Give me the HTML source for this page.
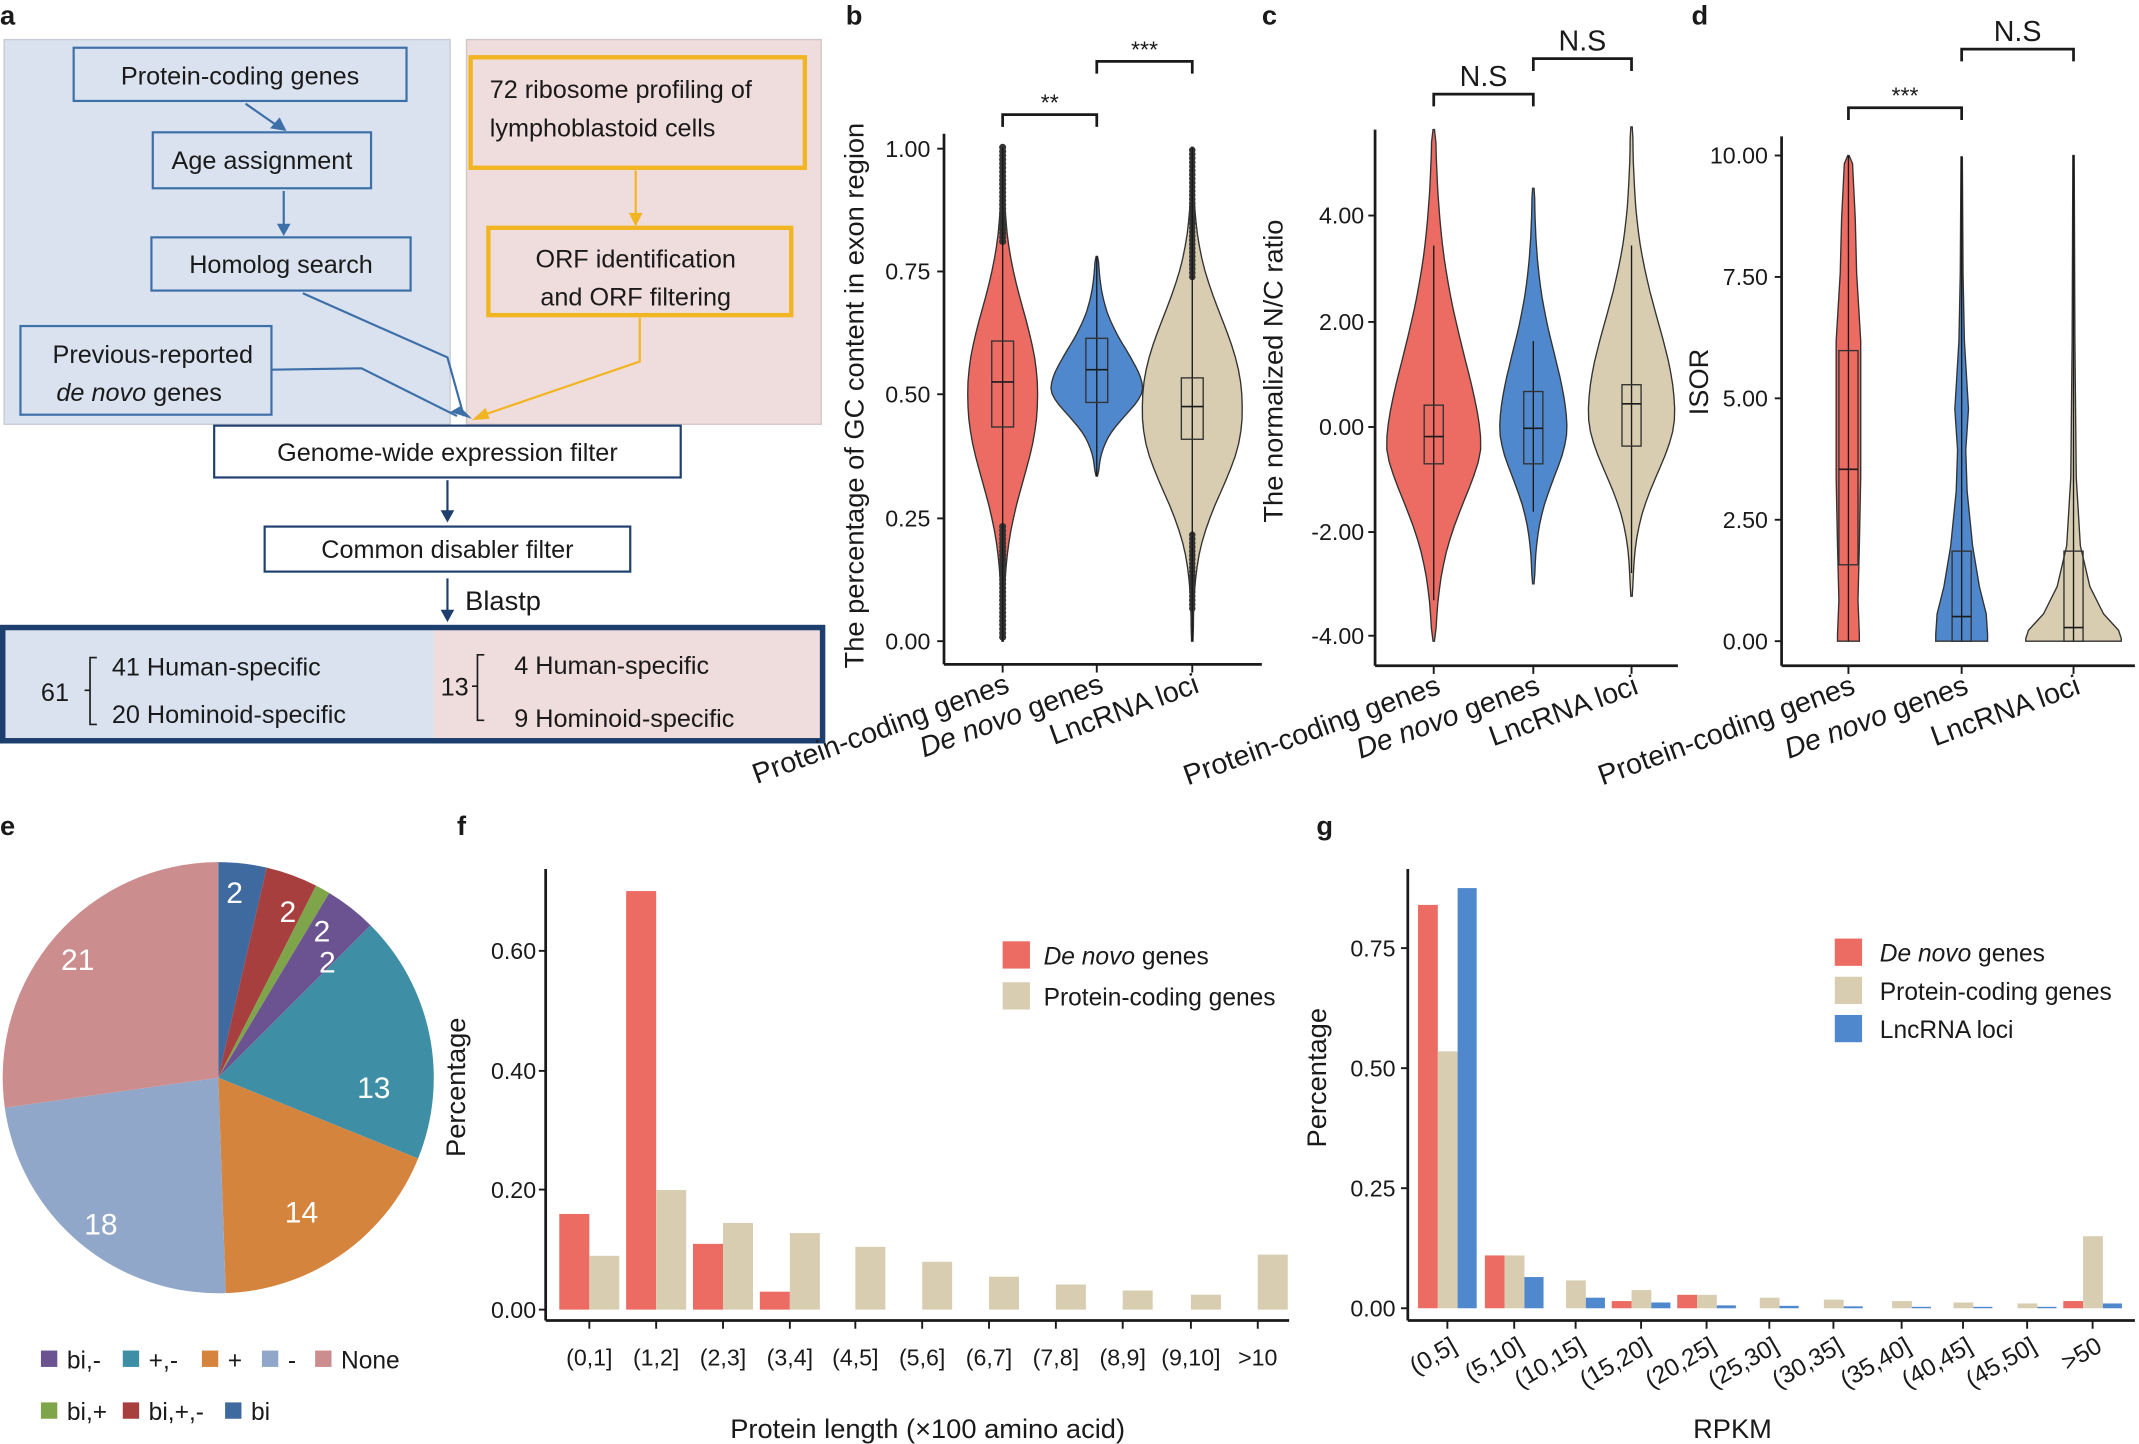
<!DOCTYPE html>
<html><head><meta charset="utf-8">
<style>
html,body{margin:0;padding:0;background:#fff;}
svg{display:block;}
text{font-family:"Liberation Sans",Arial,sans-serif;}
</style></head>
<body>
<svg id="s" xmlns="http://www.w3.org/2000/svg" width="2139" height="1444" viewBox="0 0 1568 1058.5" preserveAspectRatio="none" fill="#1a1a1a">
<rect x="0" y="0" width="1568" height="1060" fill="#fff"/>
<!-- Panel a -->
<text x="0" y="18" font-size="20" font-weight="bold">a</text>
<rect x="3" y="29" width="327" height="282" fill="#d9e2ee" stroke="#c8ccd2" stroke-width="1"/>
<rect x="342" y="29" width="260" height="282" fill="#efdcdc" stroke="#cfc6c6" stroke-width="1"/>
<g fill="none" stroke="#3d6fa8" stroke-width="1.6">
<rect x="54" y="35" width="244" height="39"/>
<rect x="112" y="97" width="160" height="41"/>
<rect x="111" y="174" width="190" height="39"/>
<rect x="15" y="239" width="184" height="65"/>
<line x1="180" y1="76" x2="203" y2="92"/>
<line x1="208" y1="140" x2="208" y2="166"/>
<polyline points="222,215 328,262 340,305"/>
<polyline points="199,271 265,270 335,305"/>
</g>
<g fill="#3d6fa8"><polygon points="198,94 210,96 205,86"/><polygon points="203,164 213,164 208,173"/><polygon points="330,302 346,307 337,298"/></g>
<g fill="none" stroke="#f2b522" stroke-width="3.2">
<rect x="345" y="42" width="245" height="81"/>
<rect x="358" y="167" width="222" height="64"/>
</g>
<g fill="none" stroke="#f2b522" stroke-width="1.6">
<line x1="466" y1="125" x2="466" y2="158"/>
<polyline points="469,233 469,265 352,305"/>
</g>
<g fill="#f2b522"><polygon points="461,156 471,156 466,166"/><polygon points="346,308 356,299 359,307"/></g>
<g font-size="18.5" text-anchor="middle">
<text x="176" y="62">Protein-coding genes</text>
<text x="192" y="124">Age assignment</text>
<text x="206" y="200">Homolog search</text>
<text x="112" y="266">Previous-reported</text>
<text x="102" y="294"><tspan font-style="italic">de novo</tspan> genes</text>
<text x="466" y="196">ORF identification</text>
<text x="466" y="224">and ORF filtering</text>
</g>
<g font-size="18.5"><text x="359" y="72">72 ribosome profiling of</text><text x="359" y="100">lymphoblastoid cells</text></g>
<g fill="none" stroke="#1f3f6e" stroke-width="1.6">
<rect x="157" y="312" width="342" height="38"/>
<rect x="194" y="386" width="268" height="33"/>
<line x1="328" y1="352" x2="328" y2="375"/>
<line x1="328" y1="424" x2="328" y2="448"/>
</g>
<g fill="#1f3f6e"><polygon points="323,374 333,374 328,383"/><polygon points="323,447 333,447 328,456"/></g>
<g font-size="18.5" text-anchor="middle"><text x="328" y="338">Genome-wide expression filter</text><text x="328" y="409">Common disabler filter</text></g>
<text x="341" y="447" font-size="20">Blastp</text>
<rect x="2" y="460" width="316" height="83" fill="#d9e2ee"/>
<rect x="318" y="460" width="285" height="83" fill="#efdcdc"/>
<rect x="2" y="460" width="601" height="83" fill="none" stroke="#1c3f6e" stroke-width="4"/>
<g fill="none" stroke="#1a1a1a" stroke-width="1.2">
<path d="M71,482 H66 V531 H71 M66,506 H62"/>
<path d="M355,480 H350 V528 H355 M350,503 H346"/>
</g>
<g font-size="18.5"><text x="30" y="514">61</text><text x="82" y="495">41 Human-specific</text><text x="82" y="530">20 Hominoid-specific</text>
<text x="323" y="510">13</text><text x="377" y="494">4 Human-specific</text><text x="377" y="533">9 Hominoid-specific</text></g>
<g font-size="20" font-weight="bold"><text x="620" y="18">b</text><text x="925" y="18">c</text><text x="1240" y="18">d</text><text x="0" y="612">e</text><text x="335" y="612">f</text><text x="965" y="612">g</text></g>
<g id="dyn"></g>
</svg>
<script>
var g=document.getElementById("dyn"),h="";
function T(x,y,s,o){o=o||{};h+='<text x="'+x+'" y="'+y+'" font-size="'+(o.fs||16)+'"'+(o.a?' text-anchor="'+o.a+'"':'')+(o.tr?' transform="'+o.tr+'"':'')+(o.it?' font-style="italic"':'')+' fill="'+(o.fill||"#1a1a1a")+'">'+s+'</text>';}
function L(x1,y1,x2,y2,w){h+='<line x1="'+x1+'" y1="'+y1+'" x2="'+x2+'" y2="'+y2+'" stroke="#1a1a1a" stroke-width="'+(w||1.2)+'"/>';}
function R(x,y,w,hh,f){h+='<rect x="'+x+'" y="'+y+'" width="'+w+'" height="'+hh+'" fill="'+f+'"/>';}
var RED="#ec6b62",BLU="#4f88cc",TAN="#d8cdb0";
function axes(x0,y0,y1,x1,ticks,labx){L(x0,y1,x0,y0,2);L(x0,y0,x1,y0,2);
 ticks.forEach(function(t){L(x0-5,t[1],x0,t[1],1.4);T(labx,t[1]+6,t[0],{a:"end",fs:17});});}
function violin(cx,prof,col){
 var l="",r="";prof.forEach(function(p,i){l+=(i?"L":"M")+(cx-p[1]).toFixed(1)+","+p[0];});
 for(var i=prof.length-1;i>=0;i--){r+="L"+(cx+prof[i][1]).toFixed(1)+","+prof[i][0];}
 h+='<path d="'+l+r+'Z" fill="'+col+'" stroke="#333" stroke-width="1"/>';}
function box(cx,top,bot,q1,q3,med,w){L(cx,top,cx,bot,1);h+='<rect x="'+(cx-w)+'" y="'+q3+'" width="'+(2*w)+'" height="'+(q1-q3)+'" fill="none" stroke="#333" stroke-width="1"/>';L(cx-w,med,cx+w,med,1.2);}
function smooth(top,bot,peakY,peakW,tail,n){
 var p=[];n=n||40;for(var i=0;i<=n;i++){var y=top+(bot-top)*i/n;var d=(y-peakY)/((y<peakY)?(peakY-top):(bot-peakY));var w=peakW*Math.exp(-Math.pow(Math.abs(d)*2.2,tail||2))+0.6;if(i==0||i==n)w=0.5;p.push([y.toFixed(1),w]);}return p;}
function bracket(x1,x2,y,lab,fs){h+='<path d="M'+x1+','+(y+9)+' V'+y+' H'+x2+' V'+(y+9)+'" fill="none" stroke="#1a1a1a" stroke-width="2"/>';T((x1+x2)/2,y-(fs>18?6:3),lab,{a:"middle",fs:fs});}
function xlab(x,y,parts,ang,fs){h+='<text x="'+x+'" y="'+y+'" font-size="'+fs+'" text-anchor="end" fill="#1a1a1a" transform="rotate('+ang+' '+x+' '+y+')">'+parts+'</text>';}
// Panel b
axes(692,487,98,925,[["1.00",109],["0.75",199],["0.50",289],["0.25",380],["0.00",470]],682);
T(0,0,"The percentage of GC content in exon region",{a:"middle",fs:20,tr:"translate(633,290) rotate(-90)"});
violin(735,smooth(108,470,290,25,2.2),RED);
for(var y=108;y<180;y+=3)h+='<circle cx="735" cy="'+y+'" r="2.6" fill="#333"/>';
for(var y=386;y<470;y+=3)h+='<circle cx="735" cy="'+y+'" r="2.6" fill="#333"/>';
box(735,108,470,313,250,280,8);
violin(804,smooth(188,349,285,33,1.8),BLU);box(804,188,349,295,248,271,8);
violin(874,smooth(108,470,300,36,2.3),TAN);
for(var y=110;y<205;y+=3)h+='<circle cx="874" cy="'+y+'" r="2.4" fill="#333"/>';
for(var y=392;y<448;y+=3)h+='<circle cx="874" cy="'+y+'" r="2.4" fill="#333"/>';
box(874,108,470,322,277,298,8);
bracket(735,804,84,"**",17);bracket(804,874,45,"***",17);
[[735,"Protein-coding genes"],[804,'<tspan font-style="italic">De novo</tspan> genes'],[874,"LncRNA loci"]].forEach(function(c){L(c[0],487,c[0],493,1.4);xlab(c[0]+6,507,c[1],-20,21);});
// Panel c
axes(1008,488,95,1230,[["4.00",158],["2.00",236],["0.00",313],["-2.00",390],["-4.00",466]],1000);
T(0,0,"The normalized N/C ratio",{a:"middle",fs:20,tr:"translate(940,272) rotate(-90)"});
violin(1051,smooth(95,470,326,34,1.7),RED);box(1051,180,440,340,297,320,7);
violin(1124,smooth(138,428,314,24,1.9),BLU);box(1124,250,375,340,287,314,7);
violin(1196,smooth(93,437,303,31,2),TAN);box(1196,180,420,327,282,296,7);
bracket(1051,1124,69,"N.S",21);bracket(1124,1196,43,"N.S",21);
[[1051,"Protein-coding genes"],[1124,'<tspan font-style="italic">De novo</tspan> genes'],[1196,"LncRNA loci"]].forEach(function(c){L(c[0],488,c[0],494,1.4);xlab(c[0]+6,508,c[1],-20,21);});
// Panel d
axes(1306,488,100,1565,[["10.00",114],["7.50",203],["5.00",292],["2.50",381],["0.00",470]],1296);
T(0,0,"ISOR",{a:"middle",fs:20,tr:"translate(1252,280) rotate(-90)"});
violin(1355,[[114,0.5],[120,3],[160,5],[200,6],[250,9],[300,9],[350,9],[400,8],[440,7],[465,8],[470,8]],RED);box(1355,114,470,414,257,344,7);
violin(1438,[[115,0.5],[200,1],[250,2],[300,5],[330,3],[360,4],[400,8],[430,13],[450,18],[465,19],[470,19]],BLU);box(1438,115,470,470,404,452,7);
violin(1520,[[114,0.5],[250,1],[350,2],[400,5],[430,12],[450,22],[462,33],[468,35],[470,35]],TAN);box(1520,114,470,470,404,460,7);
bracket(1355,1438,79,"***",17);bracket(1438,1520,36,"N.S",21);
[[1355,"Protein-coding genes"],[1438,'<tspan font-style="italic">De novo</tspan> genes'],[1520,"LncRNA loci"]].forEach(function(c){L(c[0],488,c[0],494,1.4);xlab(c[0]+6,508,c[1],-20,21);});
// Pie
var cx=160,cy=790,r=158;
var sl=[[0,13,"#3f6a9f"],[13,27,"#a83f3f"],[27,31,"#7fa54a"],[31,45,"#6b5290"],[45,112,"#3e8fa6"],[112,178,"#d5843e"],[178,262,"#91a7c9"],[262,360,"#cb8d8e"]];
sl.forEach(function(s){var a1=s[0]*Math.PI/180,a2=s[1]*Math.PI/180;var x1=cx+r*Math.sin(a1),y1=cy-r*Math.cos(a1),x2=cx+r*Math.sin(a2),y2=cy-r*Math.cos(a2);
 h+='<path d="M'+cx+','+cy+' L'+x1.toFixed(1)+','+y1.toFixed(1)+' A'+r+','+r+' 0 '+((s[1]-s[0])>180?1:0)+',1 '+x2.toFixed(1)+','+y2.toFixed(1)+'Z" fill="'+s[2]+'"/>';});
[[172,662,"2"],[211,676,"2"],[236,690,"2"],[240,713,"2"],[274,805,"13"],[221,896,"14"],[74,905,"18"],[57,711,"21"]].forEach(function(t){T(t[0],t[1],t[2],{a:"middle",fs:22,fill:"#fff"});});
[[30,"#6b5290","bi,-"],[90,"#3e8fa6","+,-"],[148,"#d5843e","+"],[192,"#91a7c9","-"],[231,"#cb8d8e","None"]].forEach(function(l){R(l[0],990,12,12,l[1]);T(l[0]+19,1003,l[2],{fs:18});});
[[30,"#7fa54a","bi,+"],[90,"#a83f3f","bi,+,-"],[165,"#3f6a9f","bi"]].forEach(function(l){R(l[0],1028,12,12,l[1]);T(l[0]+19,1041,l[2],{fs:18});});
// Panel f
axes(400,968,637,945,[["0.60",697],["0.40",785],["0.20",872],["0.00",960]],393);
T(0,0,"Percentage",{a:"middle",fs:20,tr:"translate(341,797) rotate(-90)"});
var fc=[432,481,530,579,627,676,725,774,823,873,922],fl=["(0,1]","(1,2]","(2,3]","(3,4]","(4,5]","(5,6]","(6,7]","(7,8]","(8,9]","(9,10]",">10"];
var fr=[0.16,0.70,0.11,0.03,0,0,0,0,0,0,0],ft=[0.09,0.20,0.145,0.128,0.105,0.08,0.055,0.042,0.032,0.025,0.092];
fc.forEach(function(x,i){var s=438.3;if(fr[i]>0)R(x-22,960-fr[i]*s,22,fr[i]*s,RED);R(x,960-ft[i]*s,22,ft[i]*s,TAN);L(x,968,x,974,1.4);T(x,1001,fl[i],{a:"middle",fs:17});});
R(735,690,20,20,RED);T(765,707,'<tspan font-style="italic">De novo</tspan> genes',{fs:18});
R(735,720,20,20,TAN);T(765,737,"Protein-coding genes",{fs:18});
T(680,1054,"Protein length (×100 amino acid)",{a:"middle",fs:20});
// Panel g
axes(1032,968,637,1565,[["0.75",695],["0.50",783],["0.25",871],["0.00",959]],1023);
T(0,0,"Percentage",{a:"middle",fs:20,tr:"translate(972,790) rotate(-90)"});
var gc=[1061,1110,1155,1203,1251,1297,1344,1394,1439,1486,1534],gl=["(0,5]","(5,10]","(10,15]","(15,20]","(20,25]","(25,30]","(30,35]","(35,40]","(40,45]","(45,50]",">50"];
var gr=[0.84,0.11,0,0.015,0.028,0,0,0,0,0,0.015],gt=[0.535,0.11,0.058,0.038,0.028,0.022,0.018,0.015,0.012,0.01,0.15],gb=[0.875,0.065,0.022,0.012,0.006,0.005,0.004,0.003,0.003,0.003,0.01];
gc.forEach(function(x,i){var s=352;if(gr[i]>0)R(x-21.5,959-gr[i]*s,14.5,gr[i]*s,RED);R(x-7,959-gt[i]*s,14.5,gt[i]*s,TAN);R(x+7.5,959-gb[i]*s,14,gb[i]*s,BLU);L(x,968,x,974,1.4);xlab(x+8,990,gl[i],-30,18);});
R(1345,688,20,20,RED);T(1378,705,'<tspan font-style="italic">De novo</tspan> genes',{fs:18});
R(1345,716,20,20,TAN);T(1378,733,"Protein-coding genes",{fs:18});
R(1345,744,20,20,BLU);T(1378,761,"LncRNA loci",{fs:18});
T(1270,1054,"RPKM",{a:"middle",fs:20});
g.innerHTML=h;
</script>
</body></html>
